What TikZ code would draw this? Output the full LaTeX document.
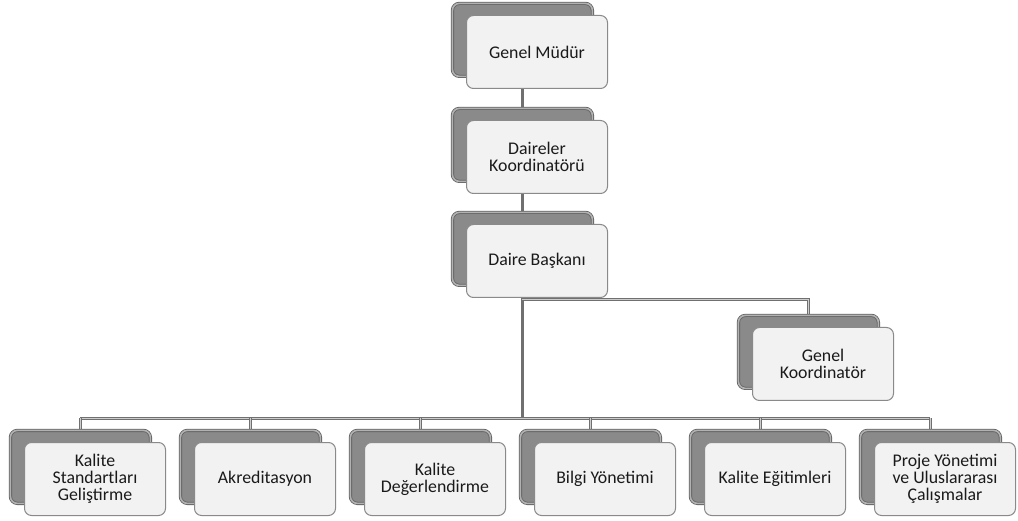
\documentclass[tikz,border=0pt]{standalone}
\usepackage{fontspec}
\setmainfont{Carlito}
\usetikzlibrary{backgrounds,calc}
\definecolor{backfill}{HTML}{8A8A8A}
\definecolor{backedge}{HTML}{626262}
\definecolor{bevel}{HTML}{B2B2B2}
\definecolor{frontfill}{HTML}{F2F2F2}
\definecolor{frontedge}{HTML}{8A8A8A}
\definecolor{linkgray}{HTML}{707070}
\definecolor{txt}{HTML}{1A1A1A}
\tikzset{
  backbox/.style={draw=backedge, double=bevel, double distance=1.6pt, line width=0.8pt,
    fill=backfill, rounded corners=7pt, minimum width=140pt, minimum height=73pt,
    inner sep=0pt, anchor=north west},
  frontbox/.style={draw=frontedge, line width=1pt, fill=frontfill, rounded corners=7pt,
    minimum width=141pt, minimum height=73pt, inner sep=2pt, anchor=north west,
    align=center, text=txt, font=\fontsize{17.8}{17}\selectfont},
  vlink/.style={draw=linkgray, line width=2.8pt},
  hlink/.style={draw=linkgray, line width=1pt, double=white!65!linkgray, double distance=1pt},
}
\newcommand\orgunit[4]{%
  \node[backbox] (#1b) at (#2,#3) {};
  \node[frontbox] (#1) at ($(#2,#3)+(14,12)$) {#4};
}
\begin{document}
\begin{tikzpicture}[x=1pt,y=-1pt]
\useasboundingbox (0,0) rectangle (1018,521);
\orgunit{gm}{452}{3}{Genel Müdür}
\orgunit{dk}{452}{108}{Daireler\\Koordinatörü}
\orgunit{db}{452}{212}{Daire Başkanı}
\orgunit{gk}{738}{315}{Genel\\Koordinatör}
\orgunit{ka}{10}{430}{Kalite\\Standartları\\Geliştirme}
\orgunit{ak}{180}{430}{Akreditasyon}
\orgunit{kd}{350}{430}{Kalite\\Değerlendirme}
\orgunit{by}{520}{430}{Bilgi Yönetimi}
\orgunit{ke}{690}{430}{Kalite Eğitimleri}
\orgunit{pr}{860}{430}{Proje Yönetimi\\ve Uluslararası\\Çalışmalar}
\coordinate (br) at (dbb.south |- 0,300);
\coordinate (bus) at (dbb.south |- 0,418);
\begin{scope}[on background layer]
  \fill[white] (0,0) rectangle (1018,521);
  \draw[vlink] (gmb.south) -- (dkb.north);
  \draw[vlink] (dkb.south) -- (dbb.north);
  \draw[vlink] (dbb.south) -- (bus);
  \draw[hlink] (br) -| (gkb.north);
  \draw[hlink] (kab.north |- bus) -- (prb.north |- bus);
  \foreach \n in {ka,ak,kd,by,ke,pr}{
    \draw[hlink] (\n b.north |- bus) -- (\n b.north);
  }
\end{scope}
\end{tikzpicture}
\end{document}
